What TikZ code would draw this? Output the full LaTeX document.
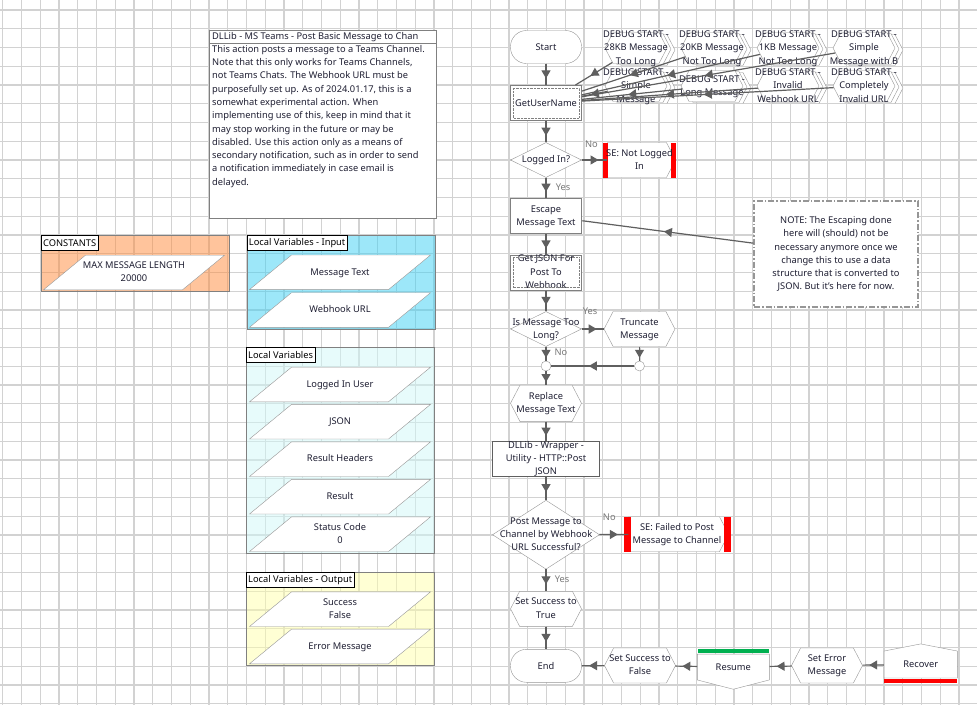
\documentclass[tikz,border=0pt]{standalone}
\usepackage{fontspec}
\setmainfont{Noto Sans}
\usetikzlibrary{arrows.meta,shapes.geometric,shapes.symbols,decorations.markings}

\definecolor{gridgray}{RGB}{210,210,210}
\definecolor{linegray}{RGB}{95,95,95}
\definecolor{shapegray}{RGB}{150,150,150}
\definecolor{boxgray}{RGB}{128,128,128}
\definecolor{labelgray}{RGB}{120,120,120}
\definecolor{inkblue}{RGB}{30,30,50}
\definecolor{errred}{RGB}{255,0,0}
\definecolor{okgreen}{RGB}{0,176,80}
\definecolor{constfill}{RGB}{255,139,59}
\definecolor{inputfill}{RGB}{61,209,245}
\definecolor{localfill}{RGB}{209,249,249}
\definecolor{outputfill}{RGB}{255,255,171}

% centred text of no size, so the shape keeps its own size
\newcommand{\ctext}[1]{\smash{\raisebox{-.25em}{\makebox[0pt]{\begin{tabular}{@{}c@{}}#1\end{tabular}}}}}

\tikzset{
	every node/.style={inner sep=0pt, text=inkblue, font=\fontsize{9.3}{13.3}\selectfont},
	flow/.style={color=linegray, line width=1.2pt, postaction={decorate},
		decoration={markings, mark=at position 0.5 with {\arrow[xshift=4pt]{Triangle[width=9pt, length=8pt]}}}},
	terminal/.style={draw=shapegray, fill=white, rounded corners=16pt, minimum width=71pt, minimum height=33pt},
	action/.style={draw=boxgray, line width=1.6pt, fill=white, minimum width=71pt, minimum height=35pt},
	subproc/.style={action, line width=1pt},
	hexa/.style={signal, signal to=east and west, signal pointer angle=125, draw=shapegray, fill=white, minimum width=71pt, minimum height=35pt},
	decision/.style={diamond, draw=shapegray, fill=white, minimum width=71pt, minimum height=35pt},
	seerror/.style={signal, signal to=east, signal from=nowhere, signal pointer angle=125, draw=shapegray, fill=white, minimum height=35pt},
	junction/.style={circle, draw=shapegray, fill=white, minimum size=10pt},
	branch/.style={text=labelgray},
	group/.style={draw=boxgray, fill opacity=0.5, minimum width=188pt, anchor=north west},
	grouplabel/.style={draw=black, fill=white, text=black, inner xsep=2pt, minimum height=15pt, anchor=north west},
	varshape/.style={draw=shapegray, fill=white},
	varitem/.style={minimum width=181pt, minimum height=34.6pt},
	dbg/.style={hexa, minimum width=62pt, minimum height=31pt},
}

\begin{document}
\begin{tikzpicture}[x=1pt, y=-1pt]
	\useasboundingbox (0,0) rectangle (977,705);
	%background grid
	\fill[white] (0,0) rectangle (977,705);
	\foreach \k in {0,1,...,51}{
		\draw[gridgray, line width=1.2pt] ({2.7+18.75*\k},0) -- ({2.7+18.75*\k},705);
	}
	\foreach \k in {0,1,...,37}{
		\draw[gridgray, line width=1.2pt] (0,{10+18.75*\k}) -- (977,{10+18.75*\k});
	}
	
	%description
	\node[draw=boxgray, fill=white, minimum width=227pt, minimum height=188pt, anchor=north west] (desc) at (209,30) {};
	\draw[boxgray] (209,43.5) -- (436,43.5);
	\node[anchor=west] (desctitle) at (212,37) {DLLib - MS Teams - Post Basic Message to Chan};
	\node[anchor=north west, align=left] (descbody) at (212,45) {This action posts a message to a Teams Channel.\\
		Note that this only works for Teams Channels,\\
		not Teams Chats. The Webhook URL must be\\
		purposefully set up. As of 2024.01.17, this is a\\
		somewhat experimental action. When\\
		implementing use of this, keep in mind that it\\
		may stop working in the future or may be\\
		disabled. Use this action only as a means of\\
		secondary notification, such as in order to send\\
		a notification immediately in case email is\\
		delayed.};
	
	%variable groups
	\node[group, fill=constfill, minimum height=56pt] (constgrp) at (41,235) {};
	\node[grouplabel] (constlbl) at (41,235) {CONSTANTS};
	\node[group, fill=inputfill, minimum height=94pt] (inputgrp) at (246.7,235) {};
	\node[grouplabel] (inputlbl) at (246.7,235) {Local Variables - Input};
	\node[group, fill=localfill, minimum height=206pt] (localgrp) at (246,347.3) {};
	\node[grouplabel] (locallbl) at (246,347.3) {Local Variables};
	\node[group, fill=outputfill, minimum height=92.7pt] (outputgrp) at (246,572.3) {};
	\node[grouplabel] (outputlbl) at (246,572.3) {Local Variables - Output};
	
	%variables
	\foreach \name/\x/\y/\txt in {maxlen/134/272.5/{MAX MESSAGE LENGTH\\20000},
		msgtext/340/272.3/{Message Text}, webhook/340/310/{Webhook URL},
		user/340/384.5/{Logged In User}, json/340/421.7/{JSON},
		headers/340/459.2/{Result Headers}, result/340/496.7/{Result},
		status/340/534.2/{Status Code\\0},
		success/340/609.2/{Success\\False}, errmsg/340/646.5/{Error Message}}{
		\draw[varshape] ({\x-48.5},{\y-17.3}) -- ({\x+90.5},{\y-17.3}) -- ({\x+48.5},{\y+17.3}) -- ({\x-90.5},{\y+17.3}) -- cycle;
		\node[varitem] (\name) at (\x,\y) {\ctext{\txt}};
	}
	
	%debug starts
	\foreach \name/\x/\y/\txt in {dbga/636/48/{DEBUG START -\\28KB Message\\Too Long},
		dbgb/712/48/{DEBUG START -\\20KB Message\\Not Too Long},
		dbgc/788/48/{DEBUG START -\\1KB Message\\Not Too Long},
		dbgd/864/48/{DEBUG START -\\Simple\\Message with B},
		dbge/636/86/{DEBUG START -\\Simple\\Message},
		dbgf/712/86/{DEBUG START -\\Long Message},
		dbgg/788/86/{DEBUG START -\\Invalid\\Webhook URL},
		dbgh/864/86/{DEBUG START -\\Completely\\Invalid URL}}{
		\foreach \s in {8,4}{
			\node[dbg] at ({\x+\s},{\y+\s/4}) {};
		}
		\node[dbg] (\name) at (\x,\y) {\ctext{\txt}};
	}
	
	%main flow
	\node[terminal] (start) at (546,47) {Start};
	\node[subproc] (gun) at (546,103) {GetUserName};
	\draw[boxgray, densely dotted] ([shift={(3,3)}]gun.north west) rectangle ([shift={(-3,-3)}]gun.south east);
	\node[decision] (logged) at (546,160) {\ctext{Logged In?}};
	\node[seerror, minimum width=68pt] (senl) at (637,160) {};
	\fill[errred] (603,142.5) rectangle (608,177.5);
	\fill[errred] (671,142.5) rectangle (675.5,177.5);
	\node (senltext) at (639.5,160) {\ctext{SE: Not Logged\\In}};
	\node[action] (escape) at (546,216) {\ctext{Escape\\Message Text}};
	\node[subproc] (getjson) at (546,272.5) {\ctext{Get JSON For\\Post To\\Webhook}};
	\draw[boxgray, densely dotted] ([shift={(3,3)}]getjson.north west) rectangle ([shift={(-3,-3)}]getjson.south east);
	\node[decision] (toolong) at (546,329) {\ctext{Is Message Too\\Long?}};
	\node[hexa] (truncate) at (639.5,329) {\ctext{Truncate\\Message}};
	\node[junction] (jl) at (546,366) {};
	\node[junction] (jr) at (639.5,366) {};
	\node[hexa, minimum height=36.5pt] (replace) at (546,403.3) {\ctext{Replace\\Message Text}};
	\node[draw=linegray, fill=white, minimum width=107pt, minimum height=34.3pt] (wrapper) at (546,458.8) {\ctext{DLLib - Wrapper -\\Utility - HTTP::Post\\JSON}};
	\node[decision, minimum width=107pt, minimum height=69pt] (posted) at (546,534.7) {\ctext{Post Message to\\Channel by Webhook\\URL Successful?}};
	\node[seerror, minimum width=100pt] (sefail) at (674,534.2) {};
	\fill[errred] (623.5,516.7) rectangle (630.8,551.7);
	\fill[errred] (724,516.7) rectangle (731,551.7);
	\node (sefailtext) at (677,534.2) {\ctext{SE: Failed to Post\\Message to Channel}};
	\node[hexa] (settrue) at (546,608.8) {\ctext{Set Success to\\True}};
	\node[terminal] (end) at (546,665.8) {End};
	\node[hexa] (setfalse) at (640,665.5) {\ctext{Set Success to\\False}};
	\node[signal, signal to=south, signal from=nowhere, signal pointer angle=151, draw=shapegray, fill=white, minimum width=72pt, minimum height=30.4pt] (resume) at (733.3,667) {Resume};
	\fill[okgreen] (698,649) rectangle (769,652.8);
	\node[hexa] (seterr) at (827,665.5) {\ctext{Set Error\\Message}};
	\node[signal, signal to=north, signal from=nowhere, signal pointer angle=158, draw=shapegray, fill=white, minimum width=73.3pt, minimum height=30.3pt] (recover) at (920.7,664.5) {Recover};
	\fill[errred] (884.3,679.3) rectangle (957.3,683);
	
	%note
	\node[draw=shapegray, line width=1.2pt, dash pattern=on 6pt off 2pt on 1.5pt off 2pt, fill=white, minimum width=164pt, minimum height=106pt, align=center] (note) at (836,254) {NOTE: The Escaping done\\
		here will (should) not be\\
		necessary anymore once we\\
		change this to use a data\\
		structure that is converted to\\
		JSON. But it's here for now.};
	
	%connectors
	\foreach \name in {dbga,dbgb,dbgc,dbgd,dbge,dbgf,dbgg,dbgh}{
		\draw[flow] (\name) -- (gun);
	}
	\draw[flow] (start) -- (gun);
	\draw[flow] (gun) -- (logged);
	\draw[flow] (logged) -- (senl);
	\draw[flow] (logged) -- (escape);
	\draw[flow] (note) -- (escape);
	\draw[flow] (escape) -- (getjson);
	\draw[flow] (getjson) -- (toolong);
	\draw[flow] (toolong) -- (truncate);
	\draw[flow] (toolong) -- (jl);
	\draw[flow] (truncate) -- (jr);
	\draw[flow] (jr) -- (jl);
	\draw[flow] (jl) -- (replace);
	\draw[flow] (replace) -- (wrapper);
	\draw[flow] (wrapper) -- (posted);
	\draw[flow] (posted) -- (sefail);
	\draw[flow] (posted) -- (settrue);
	\draw[flow] (settrue) -- (end);
	\draw[flow] (setfalse) -- (end);
	\draw[flow] (resume) -- (setfalse);
	\draw[flow] (seterr) -- (resume);
	\draw[flow] (recover) -- (seterr);
	
	%branch labels
	\node[branch] (noa) at (591.5,144) {No};
	\node[branch] (yesa) at (563,187) {Yes};
	\node[branch] (yesb) at (590,311.7) {Yes};
	\node[branch] (nob) at (561,352.3) {No};
	\node[branch] (noc) at (609.3,517.3) {No};
	\node[branch] (yesc) at (562,579.3) {Yes};
\end{tikzpicture}
\end{document}
